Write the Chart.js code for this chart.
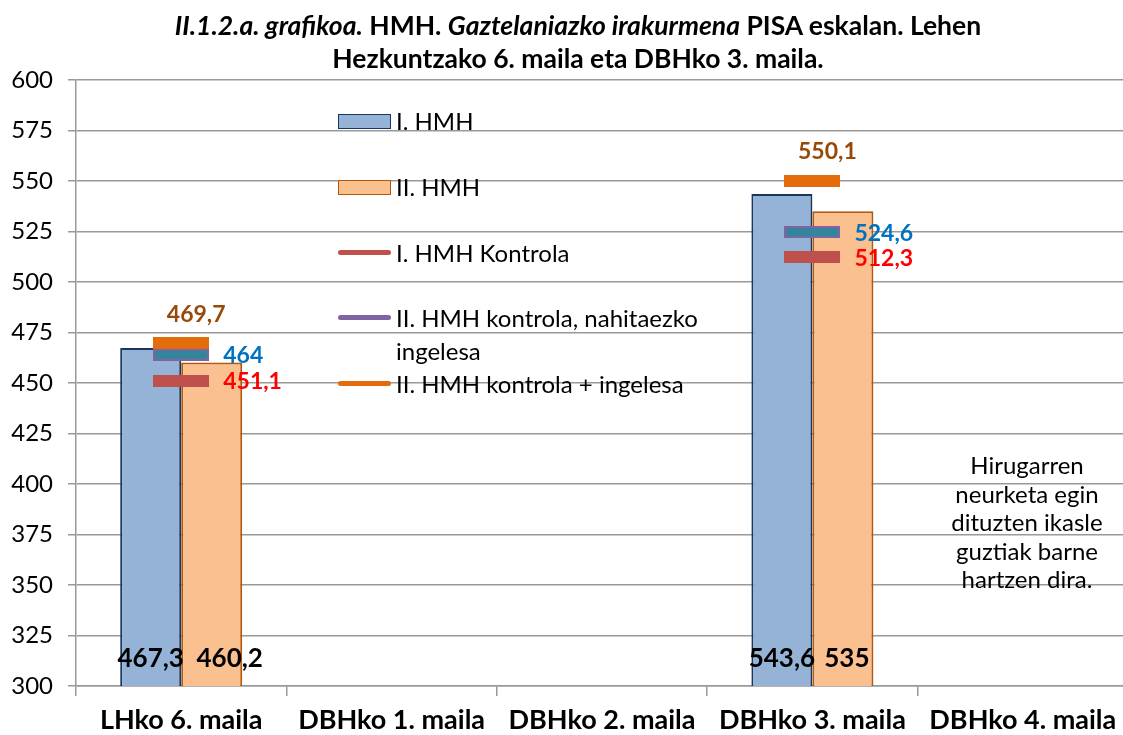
<!DOCTYPE html>
<html>
<head>
<meta charset="utf-8">
<script src="https://cdn.jsdelivr.net/npm/chart.js@4.4.1/dist/chart.umd.min.js"></script>
<style>
  html, body { margin: 0; padding: 0; background: #fff; overflow: hidden; }
  #wrap { position: relative; width: 1135px; height: 735px; font-family: Lato, sans-serif; }
  #title { position: absolute; left: 0; top: 9px; width: 1156px; text-align: center;
           font-weight: bold; font-size: 26.5px; line-height: 33px; color: #000; }
  .leg { position: absolute; left: 338px; font-size: 24px; line-height: 33px; color: #000; }
  .leg span.sym { position: absolute; left: 0; }
  .leg span.txt { position: absolute; left: 58px; white-space: nowrap; }
  .box { width: 51px; height: 13px; top: 10px; }
  .ln { width: 53px; height: 5px; top: 14px; border-radius: 3px; }
  #note { position: absolute; left: 937px; top: 451px; width: 180px; text-align: center;
          font-size: 24px; line-height: 28.5px; color: #000; }
</style>
</head>
<body>
<div id="wrap">
  <canvas id="chart" width="1135" height="735"></canvas>
  <div id="title"><i>II.1.2.a. grafikoa.</i> HMH. <i>Gaztelaniazko irakurmena</i> PISA eskalan. Lehen<br>Hezkuntzako 6. maila eta DBHko 3. maila.</div>
  <div class="leg" style="top:104px"><span class="sym box" style="background:#95B3D7;border:1.5px solid #17375E"></span><span class="txt">I. HMH</span></div>
  <div class="leg" style="top:170px"><span class="sym box" style="background:#FAC090;border:1.5px solid #B65708"></span><span class="txt">II. HMH</span></div>
  <div class="leg" style="top:236px"><span class="sym ln" style="background:#C0504D"></span><span class="txt">I. HMH Kontrola</span></div>
  <div class="leg" style="top:301px"><span class="sym ln" style="background:#8064A2"></span><span class="txt">II. HMH kontrola, nahitaezko<br>ingelesa</span></div>
  <div class="leg" style="top:367px"><span class="sym ln" style="background:#E46C0A"></span><span class="txt">II. HMH kontrola + ingelesa</span></div>
  <div id="note">Hirugarren<br>neurketa egin<br>dituzten ikasle<br>guztiak barne<br>hartzen dira.</div>
</div>
<script>
// data
const categories = ['LHko 6. maila', 'DBHko 1. maila', 'DBHko 2. maila', 'DBHko 3. maila', 'DBHko 4. maila'];
const hmh1 = [467.3, null, null, 543.6, null];
const hmh2 = [460.2, null, null, 535, null];
const kontrola1 = [451.1, null, null, 512.3, null];
const kontrola2Nahitaezko = [464, null, null, 524.6, null];
const kontrola2Ingelesa = [469.7, null, null, 550.1, null];
const yMin = 300, yMax = 600, yStep = 25;

function fmt(v) {
  return String(v).replace('.', ',');
}

// small horizontal dash used as the marker for the control series
function dash(fill, border) {
  const c = document.createElement('canvas');
  c.width = 56; c.height = 12;
  const g = c.getContext('2d');
  g.fillStyle = fill;
  g.fillRect(0, 0, 56, 12);
  if (border) {
    g.strokeStyle = border;
    g.lineWidth = 2;
    g.strokeRect(1, 1, 54, 10);
  }
  return c;
}

const valueLabels = {
  id: 'valueLabels',
  afterDatasetsDraw(chart) {
    const ctx = chart.ctx;
    const base = chart.scales.y.getPixelForValue(yMin);
    chart.data.datasets.forEach((ds, i) => {
      const meta = chart.getDatasetMeta(i);
      meta.data.forEach((el, j) => {
        const v = ds.data[j];
        if (v == null) return;
        ctx.save();
        ctx.textBaseline = 'middle';
        if (ds.type === 'bar') {
          const shift = ds.labelShift ? ds.labelShift[j] : 0;
          ctx.font = 'bold 26px Lato';
          ctx.fillStyle = '#000';
          ctx.textAlign = 'center';
          ctx.fillText(fmt(v), el.x + shift, base - 27);
        } else {
          ctx.font = 'bold 23px Lato';
          ctx.fillStyle = ds.labelColor;
          ctx.textAlign = ds.labelAlign;
          ctx.fillText(fmt(v), el.x + ds.labelDx, el.y + ds.labelDy);
        }
        ctx.restore();
      });
    });
  }
};

function draw() {
  new Chart(document.getElementById('chart'), {
    data: {
      labels: categories,
      datasets: [
        { type: 'bar', label: 'I. HMH', data: hmh1, backgroundColor: '#95B3D7', borderColor: '#17375E', borderWidth: 2, order: 10 },
        { type: 'bar', label: 'II. HMH', data: hmh2, backgroundColor: '#FAC090', borderColor: '#B65708', borderWidth: 2, order: 10,
          labelShift: [18, 0, 0, 4, 0] },
        { type: 'line', label: 'I. HMH Kontrola', data: kontrola1, showLine: false, pointStyle: dash('#C0504D'), pointRadius: 6, order: 1,
          labelColor: '#FF0000', labelAlign: 'left', labelDx: 42, labelDy: 1 },
        { type: 'line', label: 'II. HMH kontrola, nahitaezko ingelesa', data: kontrola2Nahitaezko, showLine: false, pointStyle: dash('#31859C', '#8064A2'), pointRadius: 6, order: 1,
          labelColor: '#0070C0', labelAlign: 'left', labelDx: 42, labelDy: 1 },
        { type: 'line', label: 'II. HMH kontrola + ingelesa', data: kontrola2Ingelesa, showLine: false, pointStyle: dash('#E46C0A'), pointRadius: 6, order: 1,
          labelColor: '#984807', labelAlign: 'center', labelDx: 15, labelDy: -29 }
      ]
    },
    options: {
      responsive: false,
      animation: false,
      layout: { padding: { top: 80, left: 0, right: 0, bottom: 0 } },
      datasets: { bar: { categoryPercentage: 0.58, barPercentage: 1 } },
      plugins: { legend: { display: false }, tooltip: { enabled: false } },
      scales: {
        x: {
          offset: true,
          grid: { drawOnChartArea: false, offset: true, color: '#999', tickLength: 10, lineWidth: 1.5 },
          border: { color: '#999', width: 1.5 },
          ticks: { color: '#000', font: { family: 'Lato', size: 27, weight: 'bold' }, padding: 8 },
          afterFit(s) { s.height = 49; }
        },
        y: {
          min: yMin, max: yMax,
          grid: { color: '#999', tickLength: 8, lineWidth: 1.5 },
          border: { color: '#999', width: 1.5 },
          ticks: { stepSize: yStep, color: '#000', font: { family: 'Lato', size: 24 }, padding: 15 },
          afterFit(s) { s.width = 76; }
        }
      }
    },
    plugins: [valueLabels]
  });
}

Promise.all([
  document.fonts.load('22px Lato'),
  document.fonts.load('bold 22px Lato')
]).then(draw, draw);
</script>
</body>
</html>
